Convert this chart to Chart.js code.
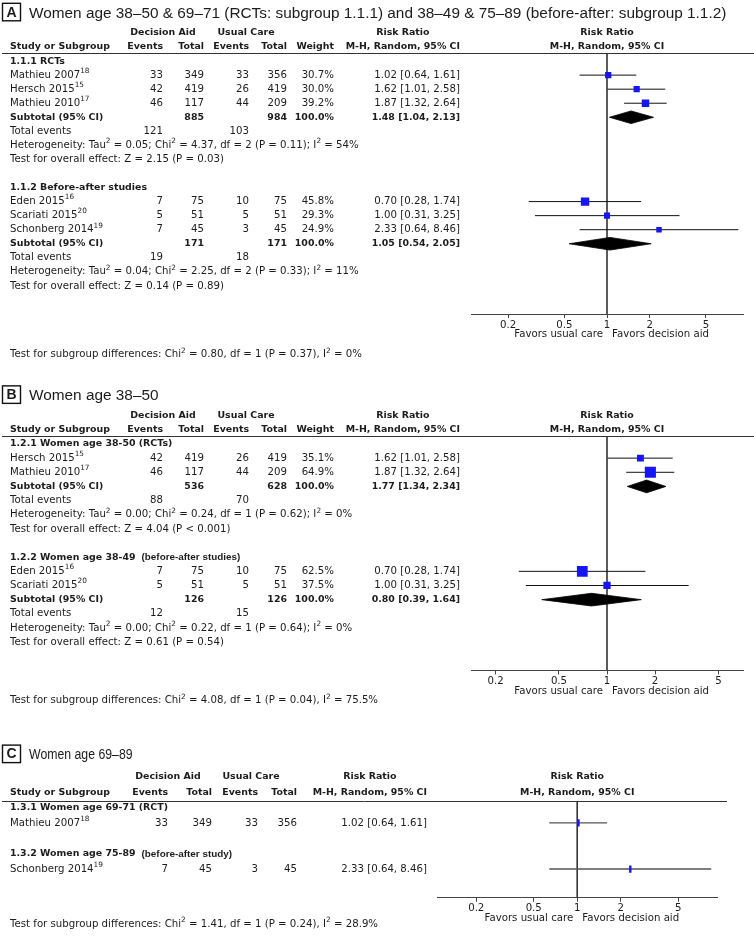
<!DOCTYPE html>
<html>
<head>
<meta charset="utf-8">
<script src="https://cdn.jsdelivr.net/npm/chart.js@4.4.1/dist/chart.umd.min.js"></script>
<style>
  html, body { margin: 0; padding: 0; background: #fff; }
  #page { position: relative; width: 754px; height: 940px; overflow: hidden; }
  canvas { position: absolute; left: 0; }
</style>
</head>
<body>
<div id="page">
  <canvas id="panelA" width="754" height="372" style="top:0px"></canvas>
  <canvas id="panelB" width="754" height="340" style="top:372px"></canvas>
  <canvas id="panelC" width="754" height="228" style="top:712px"></canvas>
</div>
<script>
// ---------- panel A data
const aTitle = 'Women age 38–50 & 69–71 (RCTs: subgroup 1.1.1) and 38–49 & 75–89 (before-after: subgroup 1.1.2)';
const aGroups = ['1.1.1 RCTs', '1.1.2 Before-after studies'];
const aGroupNotes = ['', ''];
const aStudies = ['Mathieu 2007^18^', 'Hersch 2015^15^', 'Mathieu 2010^17^', 'Eden 2015^16^', 'Scariati 2015^20^', 'Schonberg 2014^19^'];
const aGroupOf = [0, 0, 0, 1, 1, 1];
const aDaEvents = [33, 42, 46, 7, 5, 7];
const aDaTotal = [349, 419, 117, 75, 51, 45];
const aUcEvents = [33, 26, 44, 10, 5, 3];
const aUcTotal = [356, 419, 209, 75, 51, 45];
const aWeight = [30.7, 30.0, 39.2, 45.8, 29.3, 24.9];
const aRR = [1.02, 1.62, 1.87, 0.70, 1.00, 2.33];
const aLo = [0.64, 1.01, 1.32, 0.28, 0.31, 0.64];
const aHi = [1.61, 2.58, 2.64, 1.74, 3.25, 8.46];
const aSubDaTotal = [885, 171];
const aSubUcTotal = [984, 171];
const aSubDaEvents = [121, 19];
const aSubUcEvents = [103, 18];
const aSubRR = [1.48, 1.05];
const aSubLo = [1.04, 0.54];
const aSubHi = [2.13, 2.05];
const aHet = ['Tau^2^ = 0.05; Chi^2^ = 4.37, df = 2 (P = 0.11); I^2^ = 54%', 'Tau^2^ = 0.04; Chi^2^ = 2.25, df = 2 (P = 0.33); I^2^ = 11%'];
const aZ = ['Z = 2.15 (P = 0.03)', 'Z = 0.14 (P = 0.89)'];
const aSubDiff = 'Chi^2^ = 0.80, df = 1 (P = 0.37), I^2^ = 0%';

// ---------- panel B data
const bTitle = 'Women age 38–50';
const bGroups = ['1.2.1 Women age 38-50 (RCTs)', '1.2.2 Women age 38-49'];
const bGroupNotes = ['', '(before-after studies)'];
const bStudies = ['Hersch 2015^15^', 'Mathieu 2010^17^', 'Eden 2015^16^', 'Scariati 2015^20^'];
const bGroupOf = [0, 0, 1, 1];
const bDaEvents = [42, 46, 7, 5];
const bDaTotal = [419, 117, 75, 51];
const bUcEvents = [26, 44, 10, 5];
const bUcTotal = [419, 209, 75, 51];
const bWeight = [35.1, 64.9, 62.5, 37.5];
const bRR = [1.62, 1.87, 0.70, 1.00];
const bLo = [1.01, 1.32, 0.28, 0.31];
const bHi = [2.58, 2.64, 1.74, 3.25];
const bSubDaTotal = [536, 126];
const bSubUcTotal = [628, 126];
const bSubDaEvents = [88, 12];
const bSubUcEvents = [70, 15];
const bSubRR = [1.77, 0.80];
const bSubLo = [1.34, 0.39];
const bSubHi = [2.34, 1.64];
const bHet = ['Tau^2^ = 0.00; Chi^2^ = 0.24, df = 1 (P = 0.62); I^2^ = 0%', 'Tau^2^ = 0.00; Chi^2^ = 0.22, df = 1 (P = 0.64); I^2^ = 0%'];
const bZ = ['Z = 4.04 (P < 0.001)', 'Z = 0.61 (P = 0.54)'];
const bSubDiff = 'Chi^2^ = 4.08, df = 1 (P = 0.04), I^2^ = 75.5%';

// ---------- panel C data
const cTitle = 'Women age 69–89';
const cGroups = ['1.3.1 Women age 69-71 (RCT)', '1.3.2 Women age 75-89'];
const cGroupNotes = ['', '(before-after study)'];
const cStudies = ['Mathieu 2007^18^', 'Schonberg 2014^19^'];
const cGroupOf = [0, 1];
const cDaEvents = [33, 7];
const cDaTotal = [349, 45];
const cUcEvents = [33, 3];
const cUcTotal = [356, 45];
const cRR = [1.02, 2.33];
const cLo = [0.64, 0.64];
const cHi = [1.61, 8.46];
const cSubDiff = 'Chi^2^ = 1.41, df = 1 (P = 0.24), I^2^ = 28.9%';

const axisTicks = [0.2, 0.5, 1, 2, 5];

// ---------- look
const TABLE_FAMILY = '"DejaVu Sans", "Noto Sans", sans-serif';
const TITLE_FAMILY = '"Liberation Sans", Arial, sans-serif';
const TEXT = '#1c1c1c';
const BLUE = '#1616f2';

const colsAB = { name: 10, daEv: 163, daTot: 204, ucEv: 249, ucTot: 287, weight: 334, rr: 460, hdrDA: 163, hdrUC: 246 };
const colsC = { name: 10, daEv: 168, daTot: 212, ucEv: 258, ucTot: 297, weight: null, rr: 427, hdrDA: 168, hdrUC: 251 };

const layoutA = { left: 471, right: 743, chartTop: 53.2, chartBottom: 314, yMin: -0.56, yMax: 18, xMin: 0.1095, xMax: 9.13,
  cols: colsAB, ruleEnd: 754, footRow: 20.9, ciColor: '#111', ciWidth: 1, refColor: '#444', titleSqueeze: 1 };
const layoutB = { left: 471, right: 743, chartTop: 64.2, chartBottom: 298.4, yMin: -0.55, yMax: 16, xMin: 0.1404, xMax: 7.12,
  cols: colsAB, ruleEnd: 754, footRow: 18.15, ciColor: '#111', ciWidth: 1, refColor: '#444', titleSqueeze: 1 };
const layoutC = { left: 437, right: 717.5, chartTop: 89, chartBottom: 185.7, yMin: -0.42, yMax: 5.86, xMin: 0.107, xMax: 9.35,
  cols: colsC, ruleEnd: 727, footRow: 7.56, ciColor: '#555', ciWidth: 1.4, refColor: '#333', titleSqueeze: 0.8 };

// ---------- text helpers
const mctx = document.createElement('canvas').getContext('2d');
const fontStr = (size, weight, family) => `${weight} ${size}px ${family}`;

function richWidth(ctx, str, size, weight, family) {
  let w = 0;
  str.split('^').forEach((part, k) => {
    ctx.font = fontStr(k % 2 ? size * 0.72 : size, weight, family);
    w += ctx.measureText(part).width;
  });
  return w;
}

function drawRich(ctx, str, x, y, align, size, weight, family) {
  const w = richWidth(ctx, str, size, weight, family);
  let cx = align === 'right' ? x - w : align === 'center' ? x - w / 2 : x;
  ctx.textAlign = 'left';
  ctx.textBaseline = 'middle';
  str.split('^').forEach((part, k) => {
    const sup = k % 2 === 1;
    ctx.font = fontStr(sup ? size * 0.72 : size, weight, family);
    ctx.fillText(part, cx, sup ? y - size * 0.4 : y);
    cx += ctx.measureText(part).width;
  });
  return w;
}

const fitSize = (str, weight, family, target) => 20 * target / richWidth(mctx, str, 20, weight, family);
const REG = fitSize('Test for overall effect: Z = 2.15 (P = 0.03)', 'normal', TABLE_FAMILY, 214);
const BOLD = fitSize('Study or Subgroup', 'bold', TABLE_FAMILY, 100);
const TITLE = fitSize(aTitle, 'normal', TITLE_FAMILY, 698);
const NOTE = 9.9;

const fmt = (v, d) => v.toFixed(d);
const ciText = (rr, lo, hi) => `${fmt(rr, 2)} [${fmt(lo, 2)}, ${fmt(hi, 2)}]`;

// rows of the table: group header, studies, summary lines, blank line
function layoutRows(p) {
  const rows = [];
  let r = 0;
  p.groups.forEach((g, gi) => {
    rows.push({ kind: 'group', gi, row: r++ });
    p.groupOf.forEach((gg, i) => { if (gg === gi) rows.push({ kind: 'study', i, row: r++ }); });
    if (p.subRR) {
      rows.push({ kind: 'subtotal', gi, row: r++ });
      rows.push({ kind: 'events', gi, row: r++ });
      rows.push({ kind: 'het', gi, row: r++ });
      rows.push({ kind: 'z', gi, row: r++ });
    }
    r++;
  });
  return rows;
}

function tablePlugin(p, L, rows) {
  return {
    id: 'forestTable',
    afterDraw(chart) {
      const ctx = chart.ctx;
      const Y = r => chart.scales.y.getPixelForValue(r);
      const x1 = chart.scales.x.getPixelForValue(1);
      const c = L.cols;
      const B = (s, xx, yy, al) => drawRich(ctx, s, xx, yy, al, BOLD, 'bold', TABLE_FAMILY);
      const R = (s, xx, yy, al) => drawRich(ctx, s, xx, yy, al, REG, 'normal', TABLE_FAMILY);
      ctx.save();
      ctx.fillStyle = TEXT;

      // panel letter and title
      const ty = Y(-3.4);
      ctx.strokeStyle = '#111';
      ctx.lineWidth = 1.4;
      ctx.strokeRect(2.5, ty - 10, 18, 17.5);
      ctx.font = fontStr(14, 'bold', TITLE_FAMILY);
      ctx.textAlign = 'center';
      ctx.textBaseline = 'middle';
      ctx.fillText(p.letter, 11.5, ty - 0.5);
      ctx.save();
      ctx.translate(29, ty);
      ctx.scale(L.titleSqueeze, 1);
      ctx.font = fontStr(TITLE, 'normal', TITLE_FAMILY);
      ctx.textAlign = 'left';
      ctx.fillText(p.title, 0, 0);
      ctx.restore();

      // column headers
      const h1 = Y(-2), h2 = Y(-1);
      const mhW = richWidth(ctx, 'M-H, Random, 95% CI', BOLD, 'bold', TABLE_FAMILY);
      B('Decision Aid', c.hdrDA, h1, 'center');
      B('Usual Care', c.hdrUC, h1, 'center');
      B('Risk Ratio', c.rr - mhW / 2, h1, 'center');
      B('Risk Ratio', x1, h1, 'center');
      B('Study or Subgroup', c.name, h2, 'left');
      B('Events', c.daEv, h2, 'right');
      B('Total', c.daTot, h2, 'right');
      B('Events', c.ucEv, h2, 'right');
      B('Total', c.ucTot, h2, 'right');
      if (c.weight) B('Weight', c.weight, h2, 'right');
      B('M-H, Random, 95% CI', c.rr, h2, 'right');
      B('M-H, Random, 95% CI', x1, h2, 'center');

      // rule under the headers
      ctx.strokeStyle = '#333';
      ctx.lineWidth = 1;
      const ry = Math.round(chart.chartArea.top) + 0.5;
      ctx.beginPath();
      ctx.moveTo(2, ry);
      ctx.lineTo(L.ruleEnd, ry);
      ctx.stroke();

      rows.forEach(k => {
        const yy = Y(k.row);
        if (k.kind === 'group') {
          const w = B(p.groups[k.gi], c.name, yy, 'left');
          if (p.notes[k.gi]) drawRich(ctx, p.notes[k.gi], c.name + w + 6, yy + 0.5, 'left', NOTE, 'bold', TITLE_FAMILY);
        } else if (k.kind === 'study') {
          const i = k.i;
          R(p.studies[i], c.name, yy, 'left');
          R(String(p.daEv[i]), c.daEv, yy, 'right');
          R(String(p.daTot[i]), c.daTot, yy, 'right');
          R(String(p.ucEv[i]), c.ucEv, yy, 'right');
          R(String(p.ucTot[i]), c.ucTot, yy, 'right');
          if (p.weight) R(fmt(p.weight[i], 1) + '%', c.weight, yy, 'right');
          R(ciText(p.rr[i], p.lo[i], p.hi[i]), c.rr, yy, 'right');
        } else if (k.kind === 'subtotal') {
          const g = k.gi;
          B('Subtotal (95% CI)', c.name, yy, 'left');
          B(String(p.subDaTot[g]), c.daTot, yy, 'right');
          B(String(p.subUcTot[g]), c.ucTot, yy, 'right');
          B('100.0%', c.weight, yy, 'right');
          B(ciText(p.subRR[g], p.subLo[g], p.subHi[g]), c.rr, yy, 'right');
        } else if (k.kind === 'events') {
          R('Total events', c.name, yy, 'left');
          R(String(p.subDaEv[k.gi]), c.daEv, yy, 'right');
          R(String(p.subUcEv[k.gi]), c.ucEv, yy, 'right');
        } else if (k.kind === 'het') {
          R('Heterogeneity: ' + p.het[k.gi], c.name, yy, 'left');
        } else if (k.kind === 'z') {
          R('Test for overall effect: ' + p.z[k.gi], c.name, yy, 'left');
        }
      });

      const fy = chart.chartArea.bottom + 20.5;
      R('Favors usual care', x1 - 4, fy, 'right');
      R('Favors decision aid', x1 + 5, fy, 'left');
      R('Test for subgroup differences: ' + p.subDiff, c.name, Y(L.footRow), 'left');
      ctx.restore();
    }
  };
}

function makePanel(id, p, L) {
  const canvas = document.getElementById(id);
  const rows = layoutRows(p);
  const studyRow = {}, subRow = {};
  rows.forEach(k => {
    if (k.kind === 'study') studyRow[k.i] = k.row;
    if (k.kind === 'subtotal') subRow[k.gi] = k.row;
  });

  const datasets = [];
  // study estimates: squares sized by weight (tick marks when no weight)
  datasets.push({
    data: p.rr.map((v, i) => ({ x: v, y: studyRow[i] })),
    pointStyle: p.weight ? 'rect' : 'line',
    pointRotation: p.weight ? 0 : 90,
    pointRadius: ctx => p.weight ? (0.14 * p.weight[ctx.dataIndex] + 2) / Math.SQRT2 : 3.6,
    pointHoverRadius: ctx => p.weight ? (0.14 * p.weight[ctx.dataIndex] + 2) / Math.SQRT2 : 3.6,
    backgroundColor: BLUE,
    borderColor: BLUE,
    borderWidth: p.weight ? 0 : 2.4
  });
  // subtotal diamonds
  if (p.subRR) {
    p.subRR.forEach((v, g) => {
      const r = subRow[g];
      datasets.push({
        type: 'line',
        data: [{ x: p.subLo[g], y: r }, { x: v, y: r - 0.45 }, { x: p.subHi[g], y: r }, { x: v, y: r + 0.45 }, { x: p.subLo[g], y: r }],
        borderColor: '#000', borderWidth: 0.8, backgroundColor: '#000',
        fill: 'shape', pointRadius: 0, tension: 0
      });
    });
  }
  // confidence intervals
  p.rr.forEach((v, i) => {
    datasets.push({
      type: 'line',
      data: [{ x: p.lo[i], y: studyRow[i] }, { x: p.hi[i], y: studyRow[i] }],
      borderColor: L.ciColor, borderWidth: L.ciWidth, pointRadius: 0, fill: false
    });
  });
  // line of no effect
  datasets.push({
    type: 'line',
    data: [{ x: 1, y: L.yMin }, { x: 1, y: L.yMax }],
    borderColor: L.refColor, borderWidth: 1, pointRadius: 0, fill: false
  });

  const axisH = 22;
  return new Chart(canvas, {
    type: 'scatter',
    data: { datasets },
    options: {
      responsive: false,
      animation: false,
      devicePixelRatio: 1,
      events: [],
      layout: {
        padding: {
          left: L.left,
          right: canvas.width - L.right,
          top: L.chartTop,
          bottom: canvas.height - L.chartBottom - axisH
        }
      },
      scales: {
        x: {
          type: 'logarithmic',
          position: 'bottom',
          min: L.xMin,
          max: L.xMax,
          afterBuildTicks: s => { s.ticks = axisTicks.map(v => ({ value: v })); },
          afterFit: s => { s.height = axisH; },
          ticks: {
            callback: v => String(v),
            font: { family: TABLE_FAMILY, size: REG },
            color: TEXT,
            padding: 1,
            maxRotation: 0,
            autoSkip: false
          },
          grid: { drawOnChartArea: false, drawTicks: true, tickLength: 4, color: '#444' },
          border: { display: true, color: '#444', width: 1 }
        },
        y: {
          type: 'linear',
          reverse: true,
          min: L.yMin,
          max: L.yMax,
          display: false
        }
      },
      plugins: {
        legend: { display: false },
        tooltip: { enabled: false }
      }
    },
    plugins: [tablePlugin(p, L, rows)]
  });
}

makePanel('panelA', {
  letter: 'A', title: aTitle, groups: aGroups, notes: aGroupNotes, studies: aStudies, groupOf: aGroupOf,
  daEv: aDaEvents, daTot: aDaTotal, ucEv: aUcEvents, ucTot: aUcTotal, weight: aWeight,
  rr: aRR, lo: aLo, hi: aHi,
  subDaTot: aSubDaTotal, subUcTot: aSubUcTotal, subDaEv: aSubDaEvents, subUcEv: aSubUcEvents,
  subRR: aSubRR, subLo: aSubLo, subHi: aSubHi, het: aHet, z: aZ, subDiff: aSubDiff
}, layoutA);

makePanel('panelB', {
  letter: 'B', title: bTitle, groups: bGroups, notes: bGroupNotes, studies: bStudies, groupOf: bGroupOf,
  daEv: bDaEvents, daTot: bDaTotal, ucEv: bUcEvents, ucTot: bUcTotal, weight: bWeight,
  rr: bRR, lo: bLo, hi: bHi,
  subDaTot: bSubDaTotal, subUcTot: bSubUcTotal, subDaEv: bSubDaEvents, subUcEv: bSubUcEvents,
  subRR: bSubRR, subLo: bSubLo, subHi: bSubHi, het: bHet, z: bZ, subDiff: bSubDiff
}, layoutB);

makePanel('panelC', {
  letter: 'C', title: cTitle, groups: cGroups, notes: cGroupNotes, studies: cStudies, groupOf: cGroupOf,
  daEv: cDaEvents, daTot: cDaTotal, ucEv: cUcEvents, ucTot: cUcTotal, weight: null,
  rr: cRR, lo: cLo, hi: cHi, subRR: null, subDiff: cSubDiff
}, layoutC);
</script>
</body>
</html>
